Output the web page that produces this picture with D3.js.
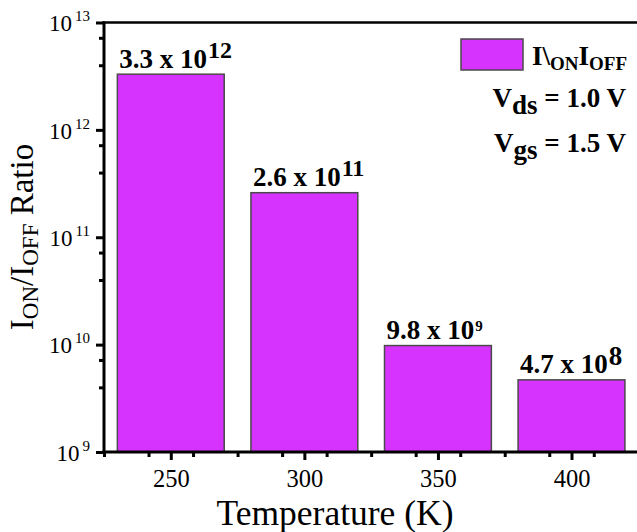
<!DOCTYPE html>
<html>
<head>
<meta charset="utf-8">
<script src="https://cdn.jsdelivr.net/npm/d3@7"></script>
<style>
  body { margin: 0; background: #fff; }
  svg { display: block; }
  svg text { font-family: "Liberation Serif", "Times New Roman", serif; }
</style>
</head>
<body>
<div id="chart"></div>
<script>
// data
const temps = [250, 300, 350, 400];
const ratios = [3.3e12, 2.6e11, 9.8e9, 4.7e9];
const labelMantissa = ["3.3", "2.6", "9.8", "4.7"];
const labelExponent = ["12", "11", "9", "8"];
const xTicks = [250, 300, 350, 400];
const yTickExps = [9, 10, 11, 12, 13];
const yMinorMult = [4, 7.2];
const barWidthK = 40;

// superscript look of each bar label (the figure is not consistent)
const supStyle = [
    { size: 24, dy: -10 },
    { size: 24, dy: -10 },
    { size: 15, dy: -8 },
    { size: 27, dy: -8 }
];

const width = 637, height = 532;
const plot = { left: 104, right: 638.3, top: 22.5, bottom: 452 };
const barColor = "#d633ff";

const svg = d3.select("#chart").append("svg")
    .attr("width", width)
    .attr("height", height)
    .attr("font-family", "Liberation Serif, serif");

const x = d3.scaleLinear().domain([225, 425]).range([plot.left, plot.right]);
const y = d3.scaleLog().domain([1e9, 1e13]).range([plot.bottom, plot.top]);

// bars
svg.selectAll(".bar")
    .data(temps)
    .enter().append("rect")
    .attr("class", "bar")
    .attr("x", d => x(d - barWidthK / 2))
    .attr("width", d => x(d + barWidthK / 2) - x(d - barWidthK / 2))
    .attr("y", (d, i) => y(ratios[i]))
    .attr("height", (d, i) => plot.bottom - y(ratios[i]))
    .attr("fill", barColor)
    .attr("stroke", "#4a4a4a")
    .attr("stroke-width", 1.5);

// bar labels
const lab = svg.selectAll(".blabel")
    .data(temps)
    .enter().append("text")
    .attr("class", "blabel")
    .attr("x", d => x(d - barWidthK / 2) + 2)
    .attr("y", (d, i) => y(ratios[i]) - 6.5)
    .attr("font-weight", "bold")
    .attr("font-size", 27);
lab.append("tspan").text((d, i) => labelMantissa[i] + " x 10");
lab.append("tspan")
    .attr("font-size", (d, i) => supStyle[i].size)
    .attr("dx", 1)
    .attr("dy", (d, i) => supStyle[i].dy)
    .text((d, i) => labelExponent[i]);

// x axis
const minorX = [];
for (let v = 225; v <= 425; v += 50 / 3) {
    const r = Math.round(v * 3) / 3;
    if (!xTicks.some(t => Math.abs(t - r) < 0.01)) minorX.push(r);
}
svg.append("g")
    .attr("transform", "translate(0," + plot.bottom + ")")
    .call(d3.axisBottom(x).tickValues(minorX).tickSize(5).tickFormat(""))
    .call(g => g.select(".domain").remove())
    .call(g => g.selectAll("line").attr("stroke-width", 3));

const xAxis = svg.append("g")
    .attr("transform", "translate(0," + plot.bottom + ")")
    .call(d3.axisBottom(x).tickValues(xTicks).tickSize(8).tickPadding(10));
xAxis.attr("font-family", null).attr("font-size", 24.5);
xAxis.select(".domain").remove();
xAxis.selectAll("line").attr("stroke-width", 3);
xAxis.selectAll("text").attr("fill", "#000");

// y axis
const minorY = [];
yTickExps.slice(0, -1).forEach(e => yMinorMult.forEach(m => minorY.push(m * Math.pow(10, e))));
svg.append("g")
    .attr("transform", "translate(" + plot.left + ",0)")
    .call(d3.axisLeft(y).tickValues(minorY).tickSize(5).tickFormat(""))
    .call(g => g.select(".domain").remove())
    .call(g => g.selectAll("line").attr("stroke-width", 3));

const yAxis = svg.append("g")
    .attr("transform", "translate(" + plot.left + ",0)")
    .call(d3.axisLeft(y).tickValues(yTickExps.map(e => Math.pow(10, e))).tickSize(8).tickFormat(""));
yAxis.attr("font-family", null).attr("font-size", 23);
yAxis.select(".domain").remove();
yAxis.selectAll("line").attr("stroke-width", 3);
yAxis.selectAll(".tick").each(function (d) {
    const t = d3.select(this).append("text")
        .attr("x", -14)
        .attr("y", 8.3)
        .attr("text-anchor", "end")
        .attr("fill", "#000");
    t.append("tspan").text("10");
    t.append("tspan").attr("font-size", 15).attr("dx", 3).attr("dy", -10).text(Math.round(Math.log10(d)));
});

// frame: left, bottom, top
svg.append("line").attr("x1", plot.left).attr("x2", plot.left).attr("y1", plot.top - 1).attr("y2", plot.bottom + 1.5)
    .attr("stroke", "#000").attr("stroke-width", 3);
svg.append("line").attr("x1", plot.left - 1.5).attr("x2", width).attr("y1", plot.bottom).attr("y2", plot.bottom)
    .attr("stroke", "#000").attr("stroke-width", 3);
svg.append("line").attr("x1", plot.left - 1.5).attr("x2", width).attr("y1", plot.top).attr("y2", plot.top)
    .attr("stroke", "#000").attr("stroke-width", 2.5);

// axis titles
svg.append("text")
    .attr("x", 335)
    .attr("y", 525)
    .attr("text-anchor", "middle")
    .attr("font-size", 35.5)
    .text("Temperature (K)");

const yt = svg.append("text")
    .attr("transform", "translate(33,237) rotate(-90)")
    .attr("text-anchor", "middle")
    .attr("font-size", 33);
yt.append("tspan").text("I");
yt.append("tspan").attr("font-size", 23).attr("dy", 5).text("ON");
yt.append("tspan").attr("dy", -5).text("/I");
yt.append("tspan").attr("font-size", 23).attr("dy", 5).text("OFF");
yt.append("tspan").attr("dy", -5).text(" Ratio");

// legend
svg.append("rect")
    .attr("x", 461).attr("y", 39)
    .attr("width", 62).attr("height", 31)
    .attr("fill", barColor)
    .attr("stroke", "#4a4a4a")
    .attr("stroke-width", 1.5);

const lg = svg.append("text")
    .attr("x", 532)
    .attr("y", 65)
    .attr("font-weight", "bold")
    .attr("font-size", 27);
lg.append("tspan").text("I\\");
lg.append("tspan").attr("font-size", 19).attr("dy", 5).text("ON");
lg.append("tspan").attr("dy", -5).text("I");
lg.append("tspan").attr("font-size", 19).attr("dy", 5).text("OFF");

const conds = [["V", "ds", " = 1.0 V", 107.3], ["V", "gs", " = 1.5 V", 151.7]];
conds.forEach(c => {
    const t = svg.append("text")
        .attr("x", 626)
        .attr("y", c[3])
        .attr("text-anchor", "end")
        .attr("font-weight", "bold")
        .attr("font-size", 27);
    t.append("tspan").text(c[0]);
    t.append("tspan").attr("dy", 7).text(c[1]);
    t.append("tspan").attr("dy", -7).text(c[2]);
});
</script>
</body>
</html>
